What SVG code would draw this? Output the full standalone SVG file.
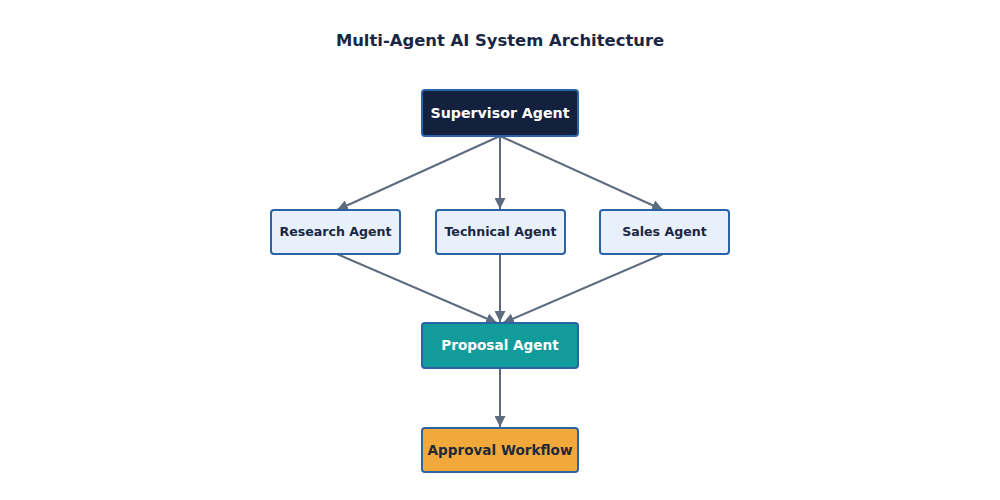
<svg xmlns="http://www.w3.org/2000/svg" width="1000" height="500" viewBox="0 0 1000 500">
<style>
.title{font-family:"DejaVu Sans",sans-serif;font-weight:bold;font-size:16.4px;fill:#1a2744;text-anchor:middle}
.lbl{font-family:"DejaVu Sans",sans-serif;font-weight:bold;text-anchor:middle;dominant-baseline:central}
.box{stroke:#2a64a6;stroke-width:2}
.edge{stroke:#5d6b7e;stroke-width:2;fill:none;marker-end:url(#arr)}
</style>
<defs>
<marker id="arr" viewBox="0 0 10 10" refX="10" refY="5" markerWidth="5.5" markerHeight="5.5" orient="auto" markerUnits="strokeWidth">
<path d="M0,0 L10,5 L0,10 z" fill="#5d6b7e"/>
</marker>
</defs>
<rect width="1000" height="500" fill="#ffffff"/>
<text class="title" x="500" y="46">Multi-Agent AI System Architecture</text>
<g id="connectors">
<line class="edge" x1="500" y1="136" x2="337" y2="210"/>
<line class="edge" x1="500" y1="136" x2="500" y2="209"/>
<line class="edge" x1="500" y1="136" x2="663" y2="210"/>
<line class="edge" x1="337" y1="254" x2="497" y2="323"/>
<line class="edge" x1="500" y1="254" x2="500" y2="322"/>
<line class="edge" x1="663" y1="254" x2="503" y2="323"/>
<line class="edge" x1="500" y1="368" x2="500" y2="427"/>
</g>
<g id="supervisor">
<rect class="box" x="422" y="90" width="156" height="46" rx="3" fill="#13213f"/>
<text class="lbl" x="500" y="112.5" font-size="14.2" fill="#ffffff">Supervisor Agent</text>
</g>
<g id="research">
<rect class="box" x="271" y="210" width="129" height="44" rx="3" fill="#e8f1fb"/>
<text class="lbl" x="335.5" y="231.5" font-size="12.6" fill="#1a2744">Research Agent</text>
</g>
<g id="technical">
<rect class="box" x="436" y="210" width="129" height="44" rx="3" fill="#e8f1fb"/>
<text class="lbl" x="500.5" y="231.5" font-size="12.6" fill="#1a2744">Technical Agent</text>
</g>
<g id="sales">
<rect class="box" x="600" y="210" width="129" height="44" rx="3" fill="#e8f1fb"/>
<text class="lbl" x="664.5" y="231.5" font-size="12.6" fill="#1a2744">Sales Agent</text>
</g>
<g id="proposal">
<rect class="box" x="422" y="323" width="156" height="45" rx="3" fill="#119b9b"/>
<text class="lbl" x="500" y="345" font-size="13.6" fill="#ffffff">Proposal Agent</text>
</g>
<g id="approval">
<rect class="box" x="422" y="428" width="156" height="44" rx="3" fill="#f1a93c"/>
<text class="lbl" x="500" y="449.5" font-size="13.6" fill="#1f2937">Approval Workflow</text>
</g>
</svg>
